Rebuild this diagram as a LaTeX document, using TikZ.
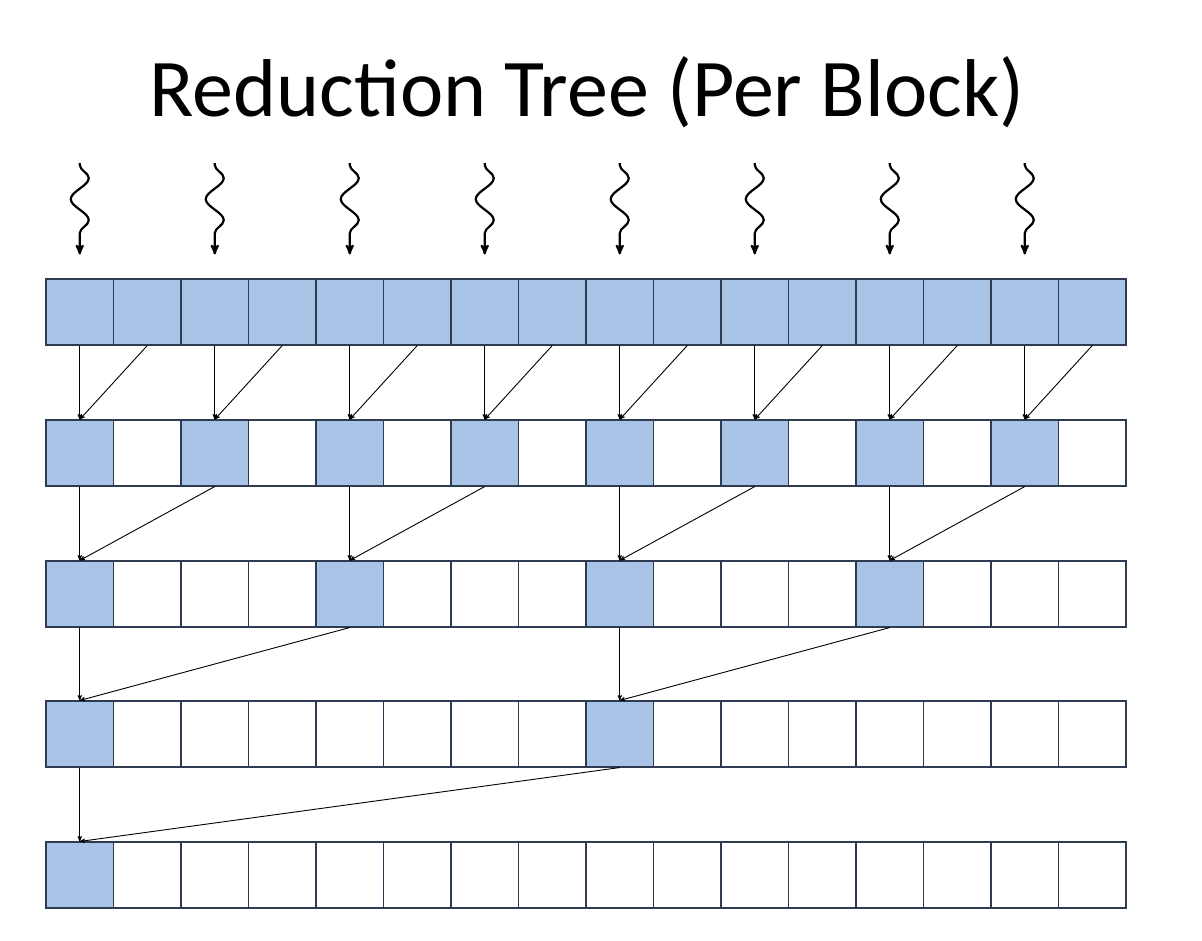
\documentclass[tikz,border=0pt]{standalone}
\usepackage{fontspec}
\setmainfont{Carlito}
\usetikzlibrary{arrows,decorations.pathmorphing}
\definecolor{cellblue}{HTML}{A9C4E6}
\definecolor{celledge}{HTML}{2E3B50}
\begin{document}
\begin{tikzpicture}[x=1pt,y=-1pt,>=stealth',
    cell/.style={draw=celledge,line width=1.1pt,minimum width=67.5pt,minimum height=66pt,inner sep=0pt},
    active/.style={cell,fill=cellblue},
    link/.style={->,line width=0.9pt,shorten >=0pt},
    thread/.style={->,line width=2.2pt,decorate,decoration={snake,amplitude=9pt,segment length=42pt,pre length=2pt,post length=10pt}}]
  \useasboundingbox (0,0) rectangle (1202,940);
  \node (title) at (587,92) {\fontsize{82}{90}\selectfont Reduction Tree (Per Block)};
  % rows of cells
  \foreach \r/\y/\s in {0/312/1,1/453/2,2/594/4,3/734/8,4/875/16}{
    \foreach \i in {0,...,15}{
      \pgfmathtruncatemacro{\m}{mod(\i,\s)}
      \ifnum\m=0
        \node[active] (c-\r-\i) at ({46+67.5*(\i+0.5)},\y) {};
      \else
        \node[cell] (c-\r-\i) at ({46+67.5*(\i+0.5)},\y) {};
      \fi
    }
  }
  % threads
  \foreach \i in {0,2,...,14}{
    \coordinate (t-\i) at ({46+67.5*(\i+0.5)},163);
    \draw[thread] (t-\i) -- ([yshift=24pt]c-0-\i.north);
  }
  % reduction links
  \foreach \r/\s in {0/2,1/4,2/8,3/16}{
    \pgfmathtruncatemacro{\n}{\r+1}
    \pgfmathtruncatemacro{\h}{\s/2}
    \pgfmathtruncatemacro{\cnt}{16/\s-1}
    \foreach \k in {0,...,\cnt}{
      \pgfmathtruncatemacro{\i}{\k*\s}
      \pgfmathtruncatemacro{\j}{\i+\h}
      \draw[link] (c-\r-\i.south) -- (c-\n-\i.north);
      \draw[link] (c-\r-\j.south) -- (c-\n-\i.north);
    }
  }
\end{tikzpicture}
\end{document}
